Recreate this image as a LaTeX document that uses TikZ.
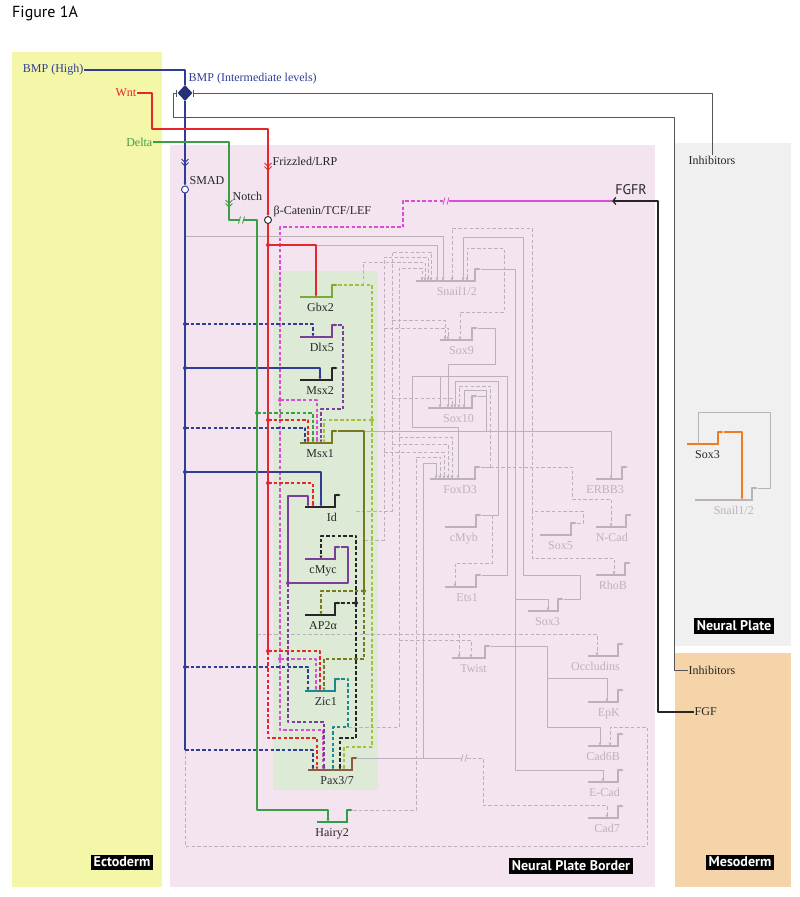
\documentclass[tikz,border=0pt]{standalone}
\usepackage{fontspec}
\setmainfont{Liberation Serif}
\setsansfont{PT Sans}
\usetikzlibrary{arrows.meta, shapes.geometric, decorations.markings}

\definecolor{ectoY}{HTML}{F4F6A8}
\definecolor{npbP}{HTML}{F4E4F0}
\definecolor{npG}{HTML}{F0F0F0}
\definecolor{mesoO}{HTML}{F5D4A9}
\definecolor{boxG}{HTML}{DCEAD6}
\definecolor{bmpB}{HTML}{2F3D96}
\definecolor{wntR}{HTML}{E5262B}
\definecolor{dlG}{HTML}{3B9E45}
\definecolor{fgfM}{HTML}{DC4CD6}
\definecolor{gbxO}{HTML}{7FA83A}
\definecolor{gbxL}{HTML}{A9BE3A}
\definecolor{msxO}{HTML}{767A1C}
\definecolor{dlxP}{HTML}{7A3F98}
\definecolor{zicT}{HTML}{1B8A8E}
\definecolor{paxB}{HTML}{8A5B3D}
\definecolor{hryG}{HTML}{2E9E48}
\definecolor{dkL}{HTML}{262626}
\definecolor{greyln}{HTML}{BAB2B8}
\definecolor{lnT}{HTML}{BDB2BB}
\definecolor{soxO}{HTML}{F07C22}
\definecolor{inhG}{HTML}{555555}

\tikzset{>={Latex[length=3.5pt,width=3.2pt]}}
\tikzset{sig/.style={line width=1.3pt},
  dsh/.style={sig, dash pattern=on 3.5pt off 2.2pt},
  gl/.style={greyln, line width=1pt},
  gd/.style={gl, dash pattern=on 3.5pt off 2.2pt},
  bar/.style={line width=2.8pt},
  gname/.style={font=\fontsize{12}{13}\selectfont, inner sep=0pt},
  lbl/.style={font=\fontsize{12}{13}\selectfont, inner sep=0.5pt},
  region/.style={fill=black, text=white, font=\sffamily\bfseries\fontsize{14}{15}\selectfont, inner sep=2.5pt}}
\tikzset{dot-/.style={decoration={
    markings,
    mark=at position 0 with {\fill (0,0) circle (2pt);} },postaction={decorate}}
}

% gene: name, left, right, y, colour, label, label colour
\newcommand{\gene}[7]{%
  \draw[bar,#5] (#2,#4) -- (#3,#4);
  \draw[#5, line width=1.4pt, ->] (#3,#4+1) -- (#3,#4-12) -- (#3+6,#4-12);
  \coordinate (#1-p) at (#3+6,#4-12);
  \node[gname, text=#7, anchor=base east] (#1) at (#3+2,#4+14) {#6};
}
\newcommand{\dchev}[3]{\draw[#3, line width=1pt] (#1-3.5,#2-4) -- (#1,#2-0.5) -- (#1+3.5,#2-4) (#1-3.5,#2-0.5) -- (#1,#2+3) -- (#1+3.5,#2-0.5);}
\newcommand{\brkmark}[3]{\draw[#3, line width=0.9pt] (#1-3,#2+3.5) -- (#1-1,#2-3.5) (#1+1,#2+3.5) -- (#1+3,#2-3.5);}

\begin{document}
\begin{tikzpicture}[x=1pt, y=-1pt, line join=round]

\useasboundingbox (0,0) rectangle (800,897);

% tissues
\fill[ectoY] (12,52) rectangle (162,887);
\fill[npbP] (170,145) rectangle (655,887);
\fill[npG] (675,143) rectangle (791,646);
\fill[mesoO] (675,653) rectangle (791,887);
\fill[boxG] (273,271) rectangle (378,790);

\node[anchor=west, font=\sffamily\fontsize{16}{17}\selectfont, inner sep=0pt] (fig) at (12,13) {Figure 1A};
\node[region] (ecto) at (122,862) {Ectoderm};
\node[region] (npb) at (571,866) {Neural Plate Border};
\node[region] (np) at (734,626) {Neural Plate};
\node[region] (meso) at (740,862) {Mesoderm};

% signals
\node[lbl, text=bmpB, anchor=east] (bmphi) at (84,70) {BMP (High)};
\node[lbl, text=bmpB, anchor=west] (bmpint) at (188,79) {BMP (Intermediate levels)};
\node[lbl, text=wntR, anchor=east] (wnt) at (137,93) {Wnt};
\node[lbl, text=dlG, anchor=east] (delta) at (153,142) {Delta};
\node[lbl, text=dkL, anchor=west] (fzd) at (272,161) {Frizzled/LRP};
\node[lbl, text=dkL, anchor=west] (smad) at (189,181) {SMAD};
\node[lbl, text=dkL, anchor=west] (notch) at (232,196) {Notch};
\node[lbl, text=dkL, anchor=west] (bcat) at (273,212) {β-Catenin/TCF/LEF};
\node[font=\sffamily\fontsize{14}{15}\selectfont, text=dkL, inner sep=0pt] (fgfr) at (631,190) {FGFR};
\node[lbl, text=dkL, anchor=north] (inhnp) at (712,155) {Inhibitors};
\node[lbl, text=dkL, anchor=west] (inhme) at (688,670) {Inhibitors};
\node[lbl, text=dkL, anchor=west] (fgf) at (694,712) {FGF};

% genes
\gene{gbx2}{300}{332}{297}{gbxO}{Gbx2}{dkL}
\gene{dlx5}{300}{332}{337}{dlxP}{Dlx5}{dkL}
\gene{msx2}{300}{332}{380}{dkL}{Msx2}{dkL}
\gene{msx1}{300}{332}{443}{msxO}{Msx1}{dkL}
\gene{id}{305}{335}{507}{dkL}{Id}{dkL}
\gene{cmyc}{305}{335}{559}{dlxP}{cMyc}{dkL}
\gene{ap2}{305}{335}{615}{dkL}{AP2α}{dkL}
\gene{zic1}{305}{335}{691}{zicT}{Zic1}{dkL}
\gene{pax}{308}{352}{770}{paxB}{Pax3/7}{dkL}
\gene{hairy}{317}{347}{822}{hryG}{Hairy2}{dkL}

\gene{snail}{416}{475}{281}{greyln}{Snail1/2}{lnT}
\gene{sox9}{440}{472}{340}{greyln}{Sox9}{lnT}
\gene{sox10}{428}{472}{408}{greyln}{Sox10}{lnT}
\gene{foxd3}{430}{475}{479}{greyln}{FoxD3}{lnT}
\gene{erbb3}{596}{622}{479}{greyln}{ERBB3}{lnT}
\gene{cmyb}{445}{476}{527}{greyln}{cMyb}{lnT}
\gene{ncad}{596}{626}{527}{greyln}{N-Cad}{lnT}
\gene{sox5}{540}{571}{535}{greyln}{Sox5}{lnT}
\gene{ets1}{445}{476}{587}{greyln}{Ets1}{lnT}
\gene{rhob}{596}{625}{575}{greyln}{RhoB}{lnT}
\gene{sox3}{528}{558}{611}{greyln}{Sox3}{lnT}
\gene{twist}{452}{485}{658}{greyln}{Twist}{lnT}
\gene{occl}{588}{618}{656}{greyln}{Occludins}{lnT}
\gene{epk}{588}{618}{702}{greyln}{EpK}{lnT}
\gene{cad6b}{588}{618}{746}{greyln}{Cad6B}{lnT}
\gene{ecad}{588}{618}{782}{greyln}{E-Cad}{lnT}
\gene{cad7}{588}{618}{818}{greyln}{Cad7}{lnT}

\gene{npsox3}{687}{718}{444}{soxO}{Sox3}{dkL}
\gene{npsnail}{695}{752}{500}{greyln}{Snail1/2}{lnT}

% grey network
\draw[gl, ->] (185,236) -- (443,236) -- (443,281);
\draw[gl, ->] (268,245) -- (437,245) -- (437,281);
\draw[gd, ->] (185,750) -- (185,846) -- (647,846) -- (647,727) -- (610,727) -- (610,746);
\draw[gd, ->] (363,285) -- (363,262) -- (425,262) -- (425,281);
\draw[gd, ->] (364,540) -- (384,540) -- (384,257) -- (428,257) -- (428,281);
\draw[gd, ->] (384,328) -- (448,328) -- (448,340);
\draw[gd, ->] (384,452) -- (444,452) -- (444,479);
\draw[gd, ->] (356,511) -- (392,511) -- (392,252) -- (431,252) -- (431,281);
\draw[gd, ->] (392,320) -- (445,320) -- (445,340);
\draw[gd, ->] (392,444) -- (448,444) -- (448,479);
\draw[gd, ->] (392,398) -- (452,398) -- (452,408);
\draw[gd, ->] (348,727) -- (399,727) -- (399,268) -- (422,268) -- (422,281);
\draw[gd, ->] (399,437) -- (452,437) -- (452,479);
\draw[gd, ->] (399,640) -- (471,640) -- (471,658);
\draw[gl] (pax-p) -- (461,758);
\brkmark{464}{758}{greyln}
\draw[gd, ->] (467,758) -- (483,758) -- (483,805) -- (607,805) -- (607,818);
\draw[gl, ->] (423,758) -- (423,463) -- (436,463) -- (436,479);
\draw[gd, ->] (hairy-p) -- (416,810) -- (416,457) -- (440,457) -- (440,479);
\draw[gl, ->] (364,431) -- (611,431) -- (611,479);
\draw[gl, ->] (sox9-p) -- (495,328) -- (495,364) -- (448,364) -- (448,408);
\draw[gd, <->] (467,281) -- (467,248) -- (504,248) -- (504,312) -- (460,312) -- (460,340);
\draw[gl, ->] (snail-p) -- (515,269) -- (515,770) -- (603,770) -- (603,782);
\draw[gl, ->] (515,599) -- (548,599) -- (548,611);
\draw[gl, ->] (sox3-p) -- (580,599) -- (580,575) -- (523,575) -- (523,237) -- (463,237) -- (463,281);
\draw[gd, ->] (sox5-p) -- (583,523) -- (583,511) -- (532,511) -- (532,558) -- (614,558) -- (614,575);
\draw[gd, ->] (532,511) -- (532,228) -- (452,228) -- (452,281);
\draw[gl] (foxd3-p) -- (490,467);
\draw[gd, ->] (490,467) -- (572,467) -- (572,499) -- (611,499) -- (611,527);
\draw[gd, ->] (490,467) -- (490,386) -- (459,386) -- (459,408);
\draw[gl, ->] (cmyb-p) -- (498,515) -- (498,381) -- (455,381) -- (455,408);
\draw[gd, ->] (492,515) -- (492,563) -- (455,563) -- (455,587);
\draw[gl, ->] (ets1-p) -- (507,575) -- (507,376) -- (412,376) -- (412,427) -- (458,427) -- (458,479);
\draw[gl, ->] (440,376) -- (440,408);
\draw[gl, ->] (sox10-p) -- (486,396) -- (486,390) -- (464,390) -- (464,408);
\draw[gl] (486,396) -- (486,431);
\draw[gl, ->] (twist-p) -- (547,646) -- (547,727) -- (600,727) -- (600,746);
\draw[gl, ->] (547,678) -- (607,678) -- (607,702);
\draw[gd, ->] (257,634) -- (597,634) -- (597,656);
\draw[gd, ->] (459,634) -- (459,658);

% neural plate
\draw[soxO, sig, ->] (npsox3-p) -- (742,432) -- (742,500);
\draw[gl] (npsnail-p) -- (770,488) -- (770,412) -- (698,412) -- (698,444);

% inhibitors and FGF
\node[diamond, fill=bmpB!80!black, inner sep=0pt, minimum width=15pt, minimum height=16pt] (dia) at (185,93) {};
\draw[inhG, line width=1pt, -{Bar[width=7pt]}] (inhnp.north) -- (712,93) -- (dia.east);
\draw[inhG, line width=1pt, -{Bar[width=7pt]}] (inhme.west) -- (674,670) -- (674,117) -- (173,117) -- (173,93) -- (dia.west);
\draw[dkL, sig, -{Straight Barb[length=3pt,width=7pt]}] (fgf.west) -- (658,712) -- (658,201) -- (612,201);

% FGFR
\draw[fgfM, sig] (612,201) -- (449,201);
\brkmark{446}{201}{fgfM}
\draw[fgfM, dsh, ->] (443,201) -- (403,201) -- (403,227) -- (280,227) -- (280,730) -- (323,730) -- (323,770);
\draw[fgfM, dsh, dot-, ->] (280,400) -- (317,400) -- (317,443);
\draw[fgfM, dsh, dot-, ->] (280,659) -- (316,659) -- (316,691);

% BMP
\draw[bmpB, sig] (bmphi.east) -- (185,70) -- (dia.north);
\draw[bmpB, sig, ->] (dia.south) -- (185,186);
\node[circle, draw=bmpB, fill=white, line width=0.9pt, inner sep=0pt, minimum size=7pt] (smadc) at (185,189.5) {};
\draw[bmpB, sig] (smadc.south) -- (185,750);
\dchev{185}{163}{bmpB}
\draw[bmpB, dsh, dot-, ->] (185,324) -- (313,324) -- (313,337);
\draw[bmpB, sig, dot-, ->] (185,368) -- (320,368) -- (320,380);
\draw[bmpB, dsh, dot-, ->] (185,428) -- (305,428) -- (305,443);
\draw[bmpB, sig, dot-, ->] (185,472) -- (321,472) -- (321,507);
\draw[bmpB, dsh, dot-, ->] (185,667) -- (308,667) -- (308,691);
\draw[bmpB, dsh, ->] (185,750) -- (313,750) -- (313,770);

% Wnt
\draw[wntR, sig, ->] (wnt.east) -- (152,93) -- (152,129) -- (268,129) -- (268,216.5);
\node[circle, draw=dkL, fill=white, line width=0.9pt, inner sep=0pt, minimum size=7pt] (bcatc) at (268,220) {};
\draw[wntR, sig] (bcatc.south) -- (268,651);
\draw[wntR, dsh, ->] (268,651) -- (268,738) -- (317,738) -- (317,770);
\dchev{268}{167}{wntR}
\draw[wntR, sig, dot-, ->] (268,245) -- (316,245) -- (316,297);
\draw[wntR, dsh, dot-, ->] (268,420) -- (308,420) -- (308,443);
\draw[wntR, dsh, dot-, ->] (268,483) -- (313,483) -- (313,507);
\draw[wntR, dsh, dot-, ->] (268,651) -- (320,651) -- (320,691);

% Delta
\draw[dlG, sig] (delta.east) -- (229,142) -- (229,220) -- (239,220);
\brkmark{241.5}{220}{dlG}
\draw[dlG, sig, ->] (244,220) -- (257,220) -- (257,810) -- (328,810) -- (328,822);
\dchev{229}{204}{dlG}
\draw[dlG, dsh, dot-, ->] (257,413) -- (313,413) -- (313,443);

% gene outputs
\draw[gbxL, dsh, ->] (gbx2-p) -- (372,285) -- (372,747) -- (344,747) -- (344,770);
\draw[gbxL, dsh, dot-, ->] (372,420) -- (324,420) -- (324,443);
\draw[dlxP, dsh, ->] (dlx5-p) -- (343,325) -- (343,409) -- (321,409) -- (321,443);
\draw[msxO, sig] (msx1-p) -- (364,431) -- (364,591);
\draw[msxO, dsh, dot-, ->] (364,591) -- (321,591) -- (321,615);
\draw[msxO, dsh, ->] (364,591) -- (364,659) -- (324,659) -- (324,691);
\draw[dlxP, sig, ->] (cmyc-p) -- (348,547) -- (348,583) -- (288,583) -- (288,496) -- (308,496) -- (308,507);
\draw[dlxP, dsh, dot-, ->] (288,583) -- (288,722) -- (324,722) -- (324,770);
\draw[dkL, dsh, ->] (ap2-p) -- (356,603) -- (356,536) -- (321,536) -- (321,559);
\draw[dkL, dsh, dot-, ->] (356,603) -- (356,738) -- (340,738) -- (340,770);
\draw[zicT, dsh, ->] (zic1-p) -- (348,679) -- (348,727) -- (333,727) -- (333,770);

\end{tikzpicture}
\end{document}
